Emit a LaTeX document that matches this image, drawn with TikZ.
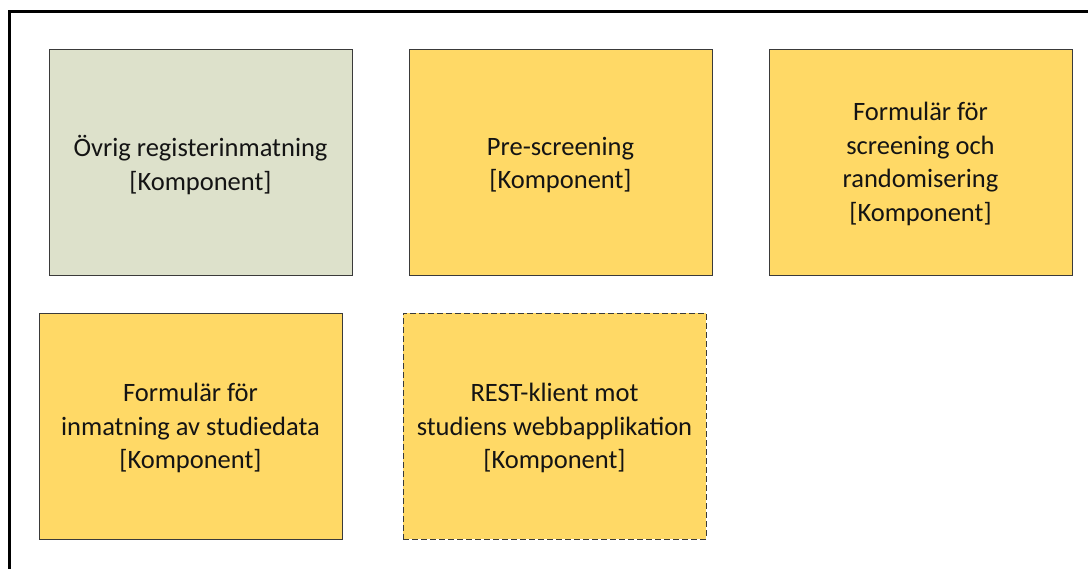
\documentclass[tikz,border=0pt]{standalone}
\usepackage{fontspec}
\setmainfont{Carlito}
\definecolor{compyellow}{HTML}{FFD966}
\definecolor{compgreen}{HTML}{DDE1CB}
\definecolor{compedge}{HTML}{3A3A3A}
\newcommand{\komp}{\\{}[Komponent]}
\begin{document}
\begin{tikzpicture}[x=1pt,y=-1pt,
  comp/.style={draw=compedge, line width=0.9pt, fill=compyellow,
    minimum width=303pt, minimum height=226pt, inner sep=0pt},
  compext/.style={comp, dash pattern=on 6pt off 3pt},
  compother/.style={comp, fill=compgreen},
  comptext/.style={align=center, inner sep=0pt,
    font=\fontsize{26.5}{33.5}\selectfont, text=black!92}]
  \useasboundingbox (0,0) rectangle (1088,569);
  % enclosing frame, cut off at the right and bottom
  \draw[line width=3pt] (9.5,600) -- (9.5,11.5) -- (1100,11.5);
  % component boxes
  \node[compother] (ovrig) at (200.5,162) {};
  \node[comp] (pre) at (560.5,162) {};
  \node[comp] (scr) at (920.5,162) {};
  \node[comp] (inm) at (190.5,426) {};
  \node[compext] (rest) at (554.5,426) {};
  % component labels
  \node[comptext] (ovrigt) at ([yshift=-3pt]ovrig.center) {Övrig registerinmatning\komp};
  \node[comptext] (pret) at ([yshift=-3pt]pre.center) {Pre-screening\komp};
  \node[comptext] (scrt) at ([yshift=-2pt]scr.center) {Formulär för\\screening och\\randomisering\komp};
  \node[comptext] (inmt) at ([yshift=-2pt]inm.center) {Formulär för\\inmatning av studiedata\komp};
  \node[comptext] (restt) at ([yshift=-2pt]rest.center) {REST-klient mot\\studiens webbapplikation\komp};
\end{tikzpicture}
\end{document}
